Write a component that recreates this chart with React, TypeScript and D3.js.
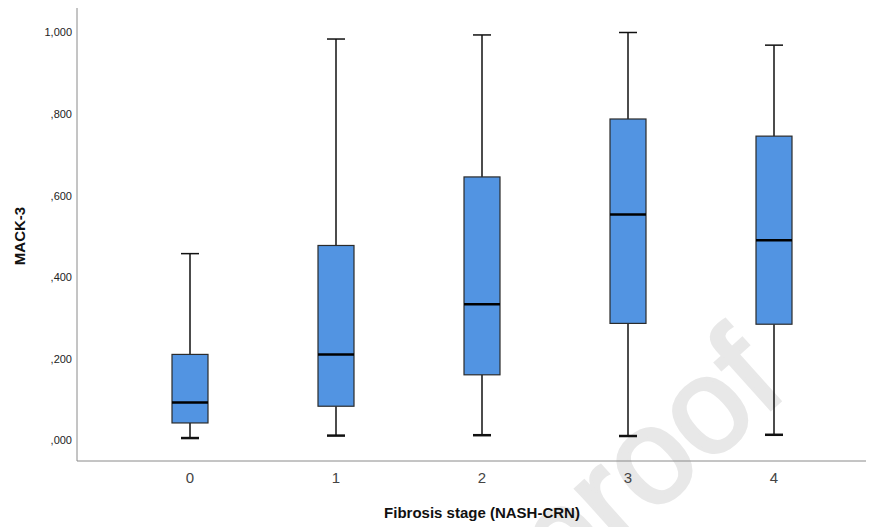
import * as d3 from 'd3';
import { useEffect, useRef } from 'react';

// Fibrosis stage (NASH-CRN) categories and MACK-3 box stats
const stages = ['0', '1', '2', '3', '4'];
const whiskerLow = [0.006, 0.012, 0.013, 0.011, 0.014];
const q1 = [0.043, 0.084, 0.161, 0.287, 0.285];
const medians = [0.093, 0.211, 0.334, 0.554, 0.491];
const q3 = [0.211, 0.478, 0.646, 0.788, 0.746];
const whiskerHigh = [0.458, 0.984, 0.994, 1.0, 0.969];

const yTickValues = [0, 0.2, 0.4, 0.6, 0.8, 1.0];
const yTickLabels = [',000', ',200', ',400', ',600', ',800', '1,000'];

export default function App() {
  const ref = useRef<SVGSVGElement | null>(null);

  useEffect(() => {
    if (!ref.current) return;
    const width = 873;
    const height = 527;
    const left = 77;
    const right = 866;
    const axisY = 461;

    const svg = d3.select(ref.current).attr('width', width).attr('height', height);
    svg.selectAll('*').remove();

    const x = d3.scalePoint<string>().domain(stages).range([190, 774]);
    const y = d3.scaleLinear().domain([0, 1]).range([440.5, 32.5]);
    const boxW = 36;
    const capW = 18;

    const font = 'Arial, "Liberation Sans", sans-serif';

    // watermark
    svg
      .append('text')
      .attr('transform', 'translate(790,392) rotate(-42)')
      .attr('text-anchor', 'end')
      .attr('font-family', font)
      .attr('font-size', 135)
      .attr('fill', '#e8e8e8')
      .attr('stroke', '#e8e8e8')
      .attr('stroke-width', 3.5)
      .text('proof');

    // axes lines
    svg
      .append('line')
      .attr('x1', left)
      .attr('x2', left)
      .attr('y1', 8)
      .attr('y2', axisY)
      .attr('stroke', '#8a8a8a')
      .attr('stroke-width', 1);
    svg
      .append('line')
      .attr('x1', left)
      .attr('x2', right)
      .attr('y1', axisY)
      .attr('y2', axisY)
      .attr('stroke', '#8a8a8a')
      .attr('stroke-width', 1);

    // y tick labels
    svg
      .append('g')
      .selectAll('text')
      .data(yTickValues)
      .join('text')
      .attr('x', 72)
      .attr('y', (d) => y(d))
      .attr('dy', '0.35em')
      .attr('text-anchor', 'end')
      .attr('font-family', font)
      .attr('font-size', 11)
      .attr('fill', '#222')
      .text((_, i) => yTickLabels[i]);

    // x tick labels
    svg
      .append('g')
      .selectAll('text')
      .data(stages)
      .join('text')
      .attr('x', (d) => x(d)!)
      .attr('y', 478)
      .attr('dy', '0.35em')
      .attr('text-anchor', 'middle')
      .attr('font-family', font)
      .attr('font-size', 15)
      .attr('fill', '#444')
      .text((d) => d);

    // axis titles
    svg
      .append('text')
      .attr('x', 482)
      .attr('y', 513)
      .attr('dy', '0.35em')
      .attr('text-anchor', 'middle')
      .attr('font-family', font)
      .attr('font-weight', 'bold')
      .attr('font-size', 15)
      .attr('fill', '#111')
      .text('Fibrosis stage (NASH-CRN)');
    svg
      .append('text')
      .attr('transform', 'translate(20,236) rotate(-90)')
      .attr('dy', '0.35em')
      .attr('text-anchor', 'middle')
      .attr('font-family', font)
      .attr('font-weight', 'bold')
      .attr('font-size', 15)
      .attr('fill', '#111')
      .text('MACK-3');

    const boxes = svg
      .append('g')
      .selectAll('g')
      .data(stages)
      .join('g')
      .attr('transform', (d) => `translate(${x(d)},0)`);

    // whiskers
    boxes
      .append('line')
      .attr('x1', 0)
      .attr('x2', 0)
      .attr('y1', (_, i) => y(whiskerHigh[i]))
      .attr('y2', (_, i) => y(q3[i]))
      .attr('stroke', '#111')
      .attr('stroke-width', 1.5);
    boxes
      .append('line')
      .attr('x1', 0)
      .attr('x2', 0)
      .attr('y1', (_, i) => y(q1[i]))
      .attr('y2', (_, i) => y(whiskerLow[i]))
      .attr('stroke', '#111')
      .attr('stroke-width', 1.5);
    boxes
      .append('line')
      .attr('x1', -capW / 2)
      .attr('x2', capW / 2)
      .attr('y1', (_, i) => y(whiskerHigh[i]))
      .attr('y2', (_, i) => y(whiskerHigh[i]))
      .attr('stroke', '#111')
      .attr('stroke-width', 1.5);
    boxes
      .append('line')
      .attr('x1', -capW / 2)
      .attr('x2', capW / 2)
      .attr('y1', (_, i) => y(whiskerLow[i]))
      .attr('y2', (_, i) => y(whiskerLow[i]))
      .attr('stroke', '#111')
      .attr('stroke-width', 2.5);

    // boxes
    boxes
      .append('rect')
      .attr('x', -boxW / 2)
      .attr('width', boxW)
      .attr('y', (_, i) => y(q3[i]))
      .attr('height', (_, i) => y(q1[i]) - y(q3[i]))
      .attr('fill', '#5294e2')
      .attr('stroke', '#2b2b2b')
      .attr('stroke-width', 1.2);

    // medians
    boxes
      .append('line')
      .attr('x1', -boxW / 2)
      .attr('x2', boxW / 2)
      .attr('y1', (_, i) => y(medians[i]))
      .attr('y2', (_, i) => y(medians[i]))
      .attr('stroke', '#000')
      .attr('stroke-width', 2.5);
  }, []);

  return (
    <svg
      ref={ref}
      style={{ position: 'absolute', left: 0, top: 0, background: '#fff' }}
    />
  );
}
